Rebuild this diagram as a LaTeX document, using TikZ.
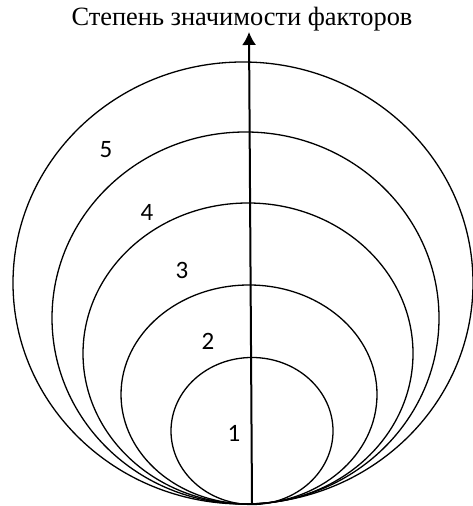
\documentclass[tikz,border=0pt]{standalone}
\usepackage{fontspec}
\setmainfont{Liberation Serif}
\newfontfamily\digitfont{Carlito}
\usetikzlibrary{arrows.meta}
\tikzset{
  levelcurve/.style={black,line width=0.65pt},
  axisarrow/.style={-{Latex[length=6.5pt,width=7pt]},line width=1pt},
  levellabel/.style={font=\digitfont\fontsize{12.5}{14}\selectfont,inner sep=0pt},
  axistitle/.style={font=\fontsize{13.2}{15}\selectfont,inner sep=0pt}
}

\begin{document}
\begin{tikzpicture}[x=0.5pt,y=0.5pt]
\useasboundingbox (0,0) rectangle (472,506);
\foreach \cx/\cy/\rx/\ry in {252/75/81/73.5, 249/111.5/128/109.5, 248/152.5/165/150.5, 245.5/188/193.5/186, 243/223/230/221}{
  \draw[levelcurve] (\cx,\cy) ellipse [x radius=\rx, y radius=\ry];
}
\coordinate (base) at (252,2);
\coordinate (tip) at (249,474);
\draw[axisarrow] (base) -- (tip);
\node[axistitle] (title) at (242,487) {Степень значимости факторов};
\foreach \n/\lx/\ly in {1/234/73, 2/208/165, 3/182/236, 4/147/294, 5/106/356}{
  \node[levellabel] (level\n) at (\lx,\ly) {\n};
}
\end{tikzpicture}
\end{document}
